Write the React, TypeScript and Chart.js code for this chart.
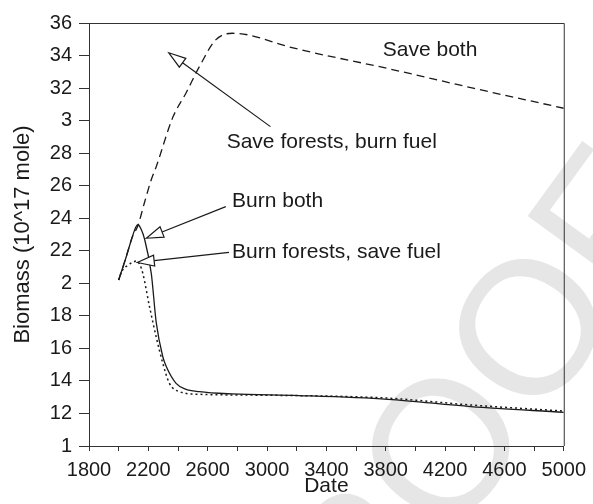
import React, { useEffect, useRef } from 'react';
import { Chart, registerables } from 'chart.js';

Chart.register(...registerables);

// ---- data ----
const burnBothDates = [2000, 2050, 2090, 2115, 2130, 2150, 2175, 2220, 2253, 2297, 2320, 2387, 2450, 2543, 2764, 3212, 3815, 4373, 5000];
const burnBothValues = [20.2, 21.6, 22.8, 23.45, 23.6, 23.35, 22.7, 20.6, 17.6, 15.5, 14.9, 13.85, 13.5, 13.34, 13.2, 13.1, 12.87, 12.42, 12.07];

const burnForestsDates = [2000, 2019, 2060, 2097, 2119, 2140, 2163, 2208, 2253, 2297, 2342, 2409, 2543, 3000, 3800, 4373, 5000];
const burnForestsValues = [20.2, 20.7, 21.1, 21.3, 21.37, 21.2, 20.6, 18.56, 16.7, 15.1, 13.85, 13.34, 13.18, 13.12, 12.95, 12.52, 12.15];

const saveBothDates = [2000, 2050, 2090, 2130, 2175, 2219, 2253, 2365, 2454, 2543, 2654, 2766, 2878, 3146, 3815, 4397, 5000];
const saveBothValues = [20.2, 21.6, 22.8, 23.55, 25.0, 26.35, 27.17, 30.2, 31.7, 33.3, 34.96, 35.37, 35.26, 34.54, 33.2, 31.98, 30.76];

const yTickValues = [10, 12, 14, 16, 18, 20, 22, 24, 26, 28, 30, 32, 34, 36];
const yTickLabels = ['1', '12', '14', '16', '18', '2', '22', '24', '26', '28', '3', '32', '34', '36'];

const xMin = 1800;
const xMax = 5000;
const xMinorStep = 200;
const xLabelStep = 400;

const annotationTexts = ['Save both', 'Save forests, burn fuel', 'Burn both', 'Burn forests, save fuel'];
// [x, y] in data units (label left-middle)
const annotationAt = [
  [3780, 34.3],
  [2728, 28.7],
  [2764, 25.02],
  [2764, 21.9],
];
// arrows: [fromX, fromY, tipX, tipY] in data units
const arrows = [
  [3023, 29.63, 2338, 34.17],
  [2722, 24.71, 2186, 22.77],
  [2744, 21.9, 2125, 21.28],
];

const FONT = '"Liberation Sans", Arial, Helvetica, sans-serif';
const INK = '#1a1a1a';

const toPts = (xs: number[], ys: number[]) => xs.map((x, i) => ({ x, y: ys[i] }));

const watermarkPlugin = {
  id: 'watermark',
  beforeDraw(chart: any) {
    const ctx = chart.ctx;
    ctx.save();
    ctx.translate(439, 445);
    ctx.rotate((-54 * Math.PI) / 180);
    ctx.font = `190px ${FONT}`;
    ctx.fillStyle = '#e6e6e6';
    ctx.textAlign = 'center';
    ctx.textBaseline = 'alphabetic';
    ctx.fillText('PROOF', 0, 190 * 0.358);
    ctx.restore();
  },
};

const framePlugin = {
  id: 'frame',
  afterDatasetsDraw(chart: any) {
    const { ctx, chartArea, scales } = chart;
    const xs = scales.x;
    const ys = scales.y;
    ctx.save();
    ctx.strokeStyle = '#333';
    ctx.lineWidth = 1;
    ctx.beginPath();
    ctx.moveTo(chartArea.left, chartArea.top + 0.5);
    ctx.lineTo(chartArea.right + 0.5, chartArea.top + 0.5);
    ctx.lineTo(chartArea.right + 0.5, chartArea.bottom);
    ctx.stroke();

    // labels
    ctx.font = `21px ${FONT}`;
    ctx.fillStyle = INK;
    ctx.textAlign = 'left';
    ctx.textBaseline = 'middle';
    annotationTexts.forEach((t, i) => {
      ctx.fillText(t, xs.getPixelForValue(annotationAt[i][0]), ys.getPixelForValue(annotationAt[i][1]));
    });

    // arrows
    ctx.strokeStyle = INK;
    ctx.lineWidth = 1.2;
    arrows.forEach((a) => {
      const x1 = xs.getPixelForValue(a[0]);
      const y1 = ys.getPixelForValue(a[1]);
      const x2 = xs.getPixelForValue(a[2]);
      const y2 = ys.getPixelForValue(a[3]);
      const ang = Math.atan2(y2 - y1, x2 - x1);
      const len = 17;
      const hw = 5.5;
      const bx = x2 - len * Math.cos(ang);
      const by = y2 - len * Math.sin(ang);
      ctx.beginPath();
      ctx.moveTo(x1, y1);
      ctx.lineTo(bx, by);
      ctx.stroke();
      ctx.beginPath();
      ctx.moveTo(x2, y2);
      ctx.lineTo(bx + hw * Math.sin(ang), by - hw * Math.cos(ang));
      ctx.lineTo(bx - hw * Math.sin(ang), by + hw * Math.cos(ang));
      ctx.closePath();
      ctx.fillStyle = '#fff';
      ctx.fill();
      ctx.stroke();
    });
    ctx.restore();
  },
};

export default function App() {
  const ref = useRef<HTMLCanvasElement>(null);
  useEffect(() => {
    document.body.style.margin = '0';
    const chart = new Chart(ref.current as HTMLCanvasElement, {
      type: 'line',
      data: {
        datasets: [
          {
            label: 'Save both',
            data: toPts(saveBothDates, saveBothValues),
            borderColor: INK,
            borderWidth: 1.3,
            borderDash: [8, 5],
            pointRadius: 0,
            cubicInterpolationMode: 'monotone',
            fill: false,
          },
          {
            label: 'Burn forests, save fuel',
            data: toPts(burnForestsDates, burnForestsValues),
            borderColor: INK,
            borderWidth: 1.5,
            borderDash: [2, 3],
            pointRadius: 0,
            cubicInterpolationMode: 'monotone',
            fill: false,
          },
          {
            label: 'Burn both',
            data: toPts(burnBothDates, burnBothValues),
            borderColor: INK,
            borderWidth: 1.3,
            pointRadius: 0,
            cubicInterpolationMode: 'monotone',
            fill: false,
          },
        ],
      },
      options: {
        responsive: false,
        animation: false,
        layout: { padding: { top: 23, right: 26, left: 0, bottom: 0 } },
        plugins: { legend: { display: false }, tooltip: { enabled: false } },
        scales: {
          x: {
            type: 'linear',
            min: xMin,
            max: xMax,
            afterFit: (s: any) => {
              s.height = 58;
            },
            afterBuildTicks: (s: any) => {
              const t = [];
              for (let v = xMin; v <= xMax; v += xMinorStep) t.push({ value: v });
              s.ticks = t;
            },
            ticks: {
              autoSkip: false,
              maxRotation: 0,
              padding: 7,
              color: INK,
              font: { family: FONT, size: 20 },
              callback: (v: any) => ((v - xMin) % xLabelStep === 0 ? String(v) : ''),
            },
            grid: { drawOnChartArea: false, drawTicks: true, tickLength: 5, color: '#333' },
            border: { display: true, color: '#333', width: 1 },
            title: {
              display: true,
              text: 'Date',
              color: INK,
              font: { family: FONT, size: 21 },
              padding: { top: 0, bottom: 5 },
            },
          },
          y: {
            type: 'linear',
            min: 10,
            max: 36,
            afterFit: (s: any) => {
              s.width = 89;
            },
            afterBuildTicks: (s: any) => {
              s.ticks = yTickValues.map((v) => ({ value: v }));
            },
            ticks: {
              padding: 7,
              color: INK,
              font: { family: FONT, size: 20 },
              callback: (v: any) => {
                const i = yTickValues.indexOf(Number(v));
                return i >= 0 ? yTickLabels[i] : '';
              },
            },
            grid: { drawOnChartArea: false, drawTicks: true, tickLength: 10, color: '#333' },
            border: { display: true, color: '#333', width: 1 },
            title: {
              display: true,
              text: 'Biomass (10^17 mole)',
              color: INK,
              font: { family: FONT, size: 22 },
              padding: { top: 10, bottom: 0 },
            },
          },
        },
      },
      plugins: [watermarkPlugin, framePlugin],
    } as any);
    return () => chart.destroy();
  }, []);
  return (
    <div style={{ position: 'absolute', left: 0, top: 0, width: 593, height: 504 }}>
      <canvas ref={ref} width={593} height={504} style={{ width: 593, height: 504 }} />
    </div>
  );
}
